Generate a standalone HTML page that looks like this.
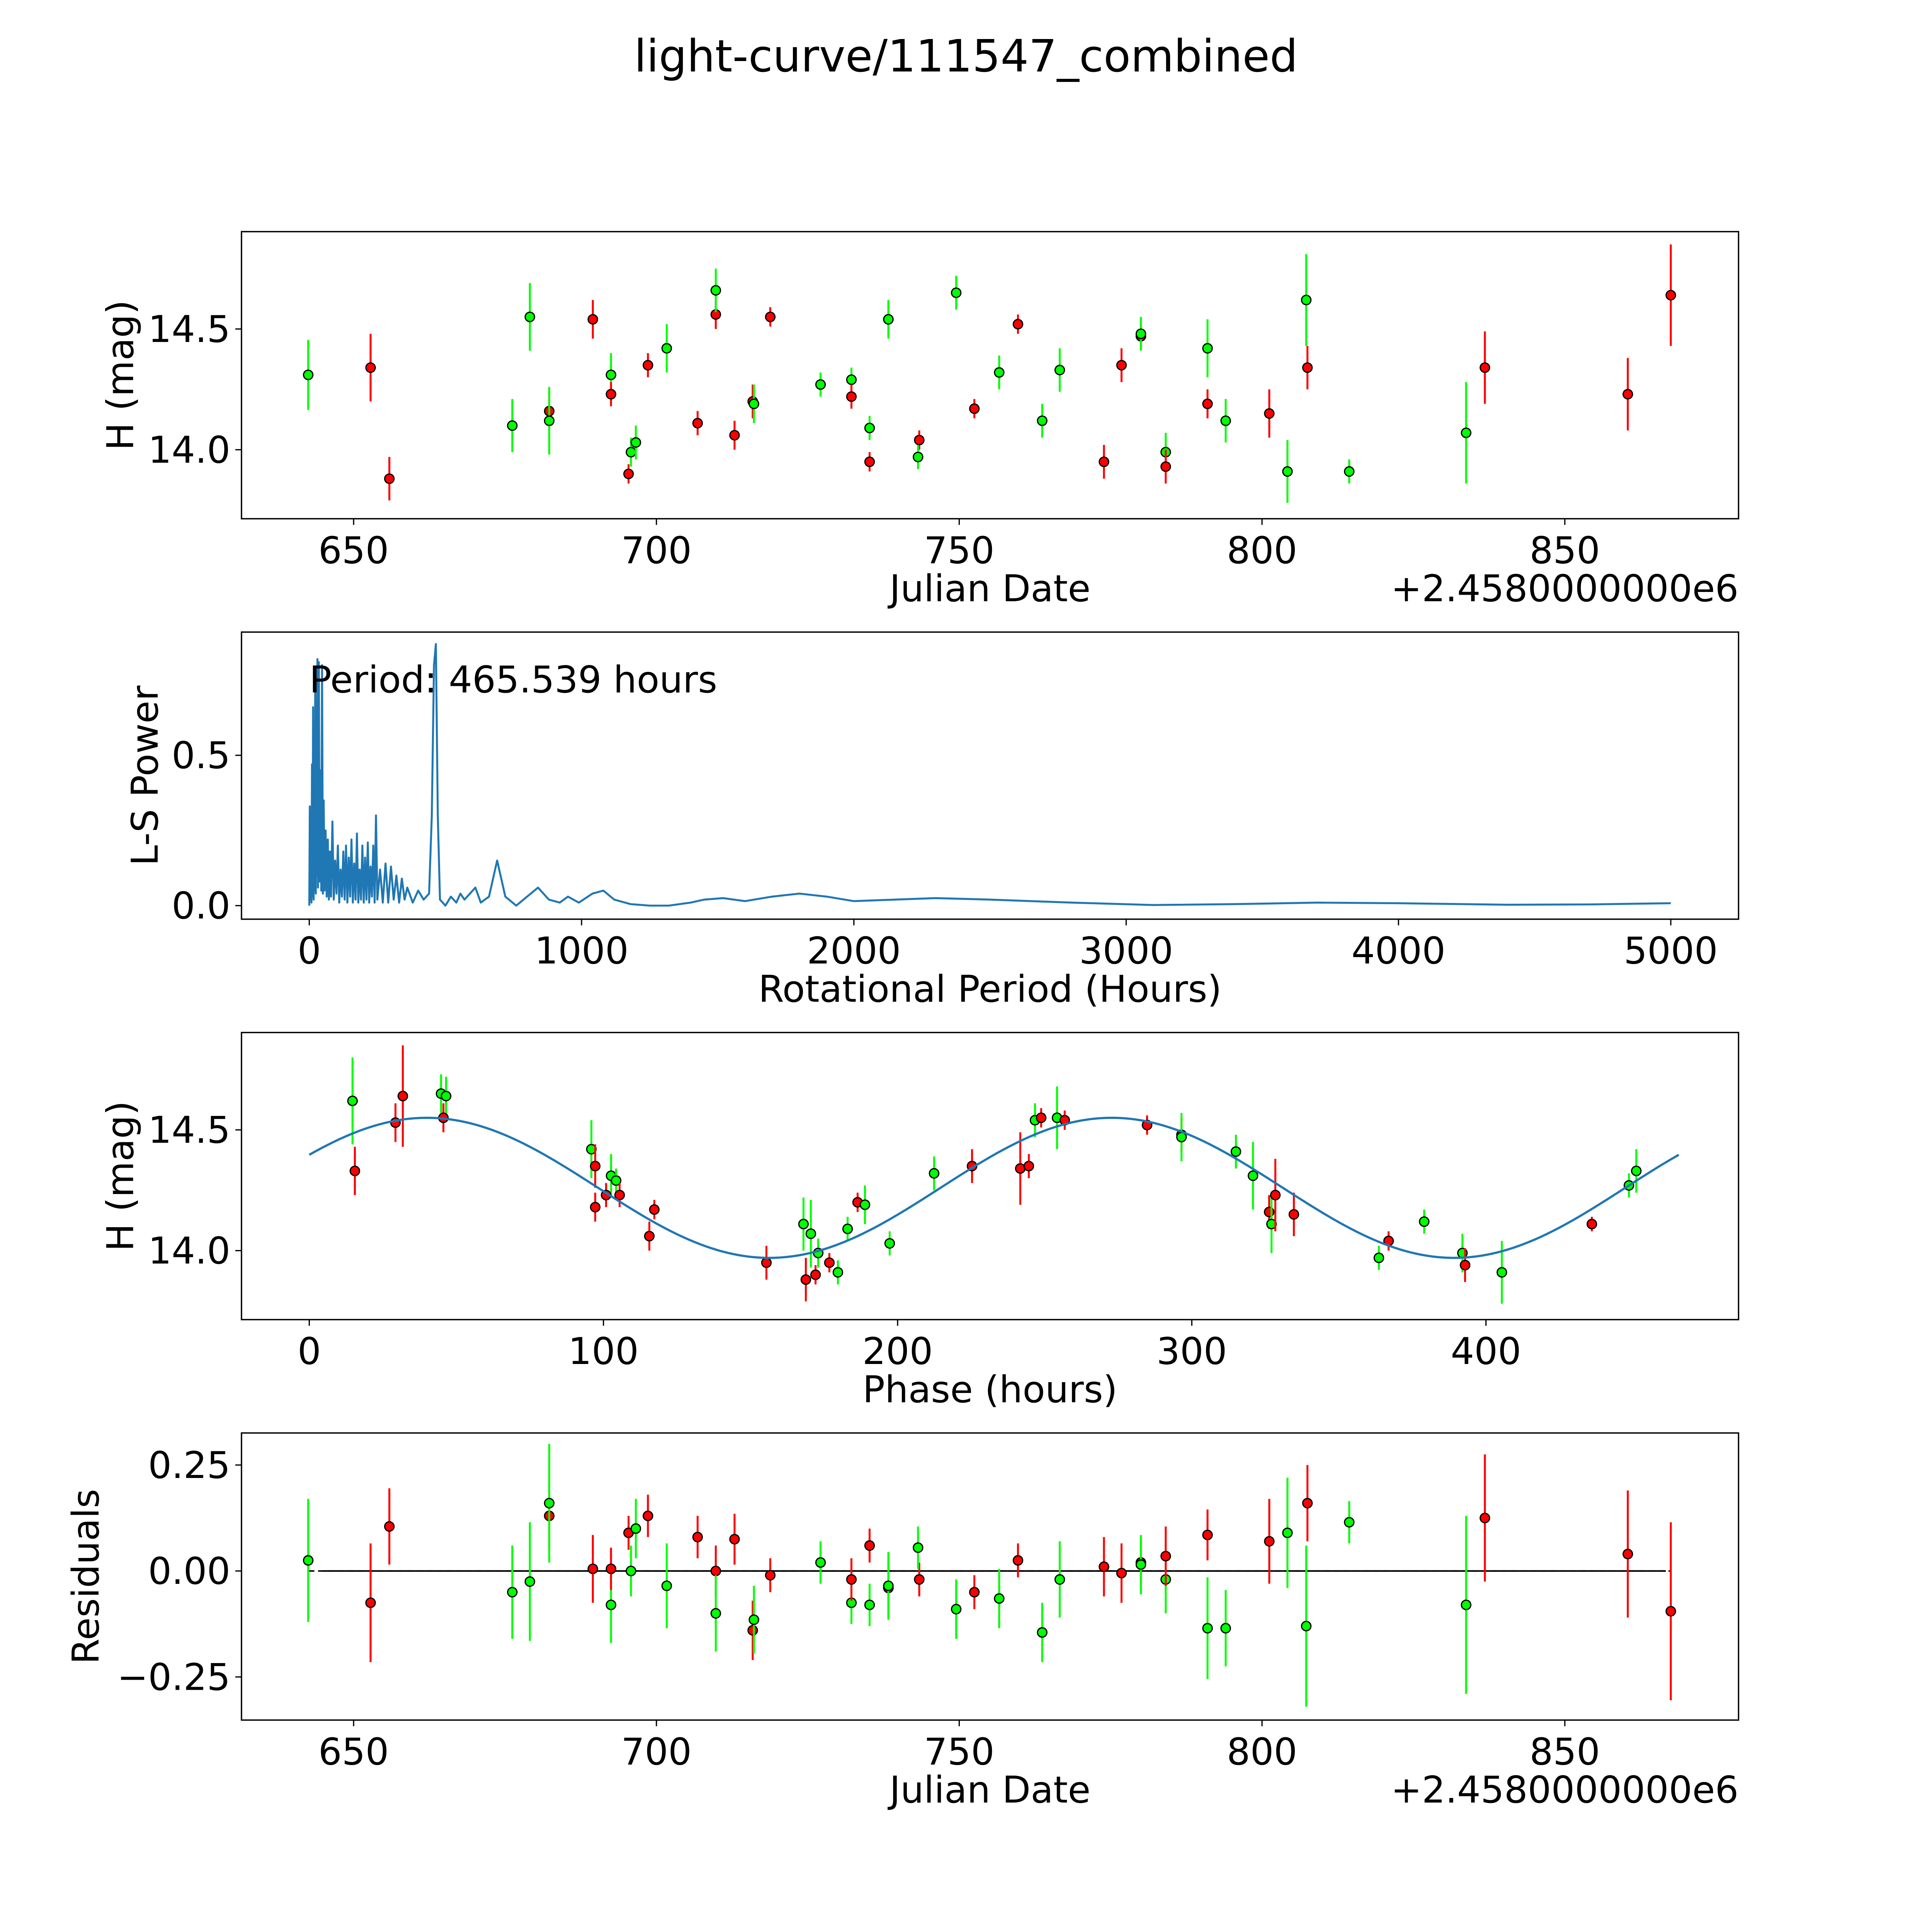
<!DOCTYPE html>
<html><head><meta charset="utf-8">
<style>
html,body{margin:0;padding:0;background:#fff;overflow:hidden;}
svg{display:block;width:100vw;height:100vh;font-family:"DejaVu Sans","Liberation Sans",sans-serif;}
</style></head>
<body>
<svg id="fig" viewBox="0 0 1568 1568" preserveAspectRatio="xMinYMin meet" xmlns="http://www.w3.org/2000/svg">
<rect width="1568" height="1568" fill="#fff"/>
<text x="784" y="58" font-size="36" text-anchor="middle">light-curve/111547_combined</text>
<g id="g1"></g>
<g id="g2"></g>
<g id="g3"></g>
<g id="g4"></g>
</svg>
<script>
// ---- Light curve data ----
const jd = [642.5,652.8,655.9,676.2,679.1,682.3,682.3,689.5,692.5,692.5,695.4,695.8,696.6,698.6,701.7,706.8,709.8,709.8,712.9,715.9,716.1,718.8,727.1,732.2,732.2,735.2,735.2,738.3,738.3,743.4,743.2,749.5,752.5,756.6,759.7,763.7,766.6,773.9,776.8,780.0,780.0,784.1,784.1,791.0,791.0,794.0,801.2,804.2,807.3,807.5,814.4,833.7,836.8,860.4,867.5];
const mag = [14.31,14.34,13.88,14.10,14.55,14.16,14.12,14.54,14.31,14.23,13.90,13.99,14.03,14.35,14.42,14.11,14.56,14.66,14.06,14.20,14.19,14.55,14.27,14.29,14.22,14.09,13.95,14.54,14.54,14.04,13.97,14.65,14.17,14.32,14.52,14.12,14.33,13.95,14.35,14.47,14.48,13.99,13.93,14.42,14.19,14.12,14.15,13.91,14.62,14.34,13.91,14.07,14.34,14.23,14.64];
const magErr = [0.145,0.14,0.09,0.11,0.14,0.08,0.14,0.08,0.09,0.05,0.04,0.06,0.07,0.05,0.10,0.05,0.06,0.09,0.06,0.07,0.08,0.04,0.05,0.05,0.05,0.05,0.04,0.07,0.08,0.04,0.05,0.07,0.04,0.07,0.04,0.07,0.09,0.07,0.07,0.05,0.07,0.08,0.07,0.12,0.06,0.09,0.10,0.13,0.19,0.09,0.05,0.21,0.15,0.15,0.21];
const band = ['g','r','r','g','g','r','g','r','g','r','r','g','g','r','g','r','r','g','r','r','g','r','g','g','r','g','r','r','g','r','g','g','r','g','r','g','g','r','r','r','g','g','r','g','r','g','r','g','g','r','g','g','r','r','r'];
// ---- Residuals (same order as jd) ----
const resid = [0.025,-0.075,0.105,-0.05,-0.025,0.13,0.16,0.005,-0.08,0.005,0.09,0.00,0.10,0.13,-0.035,0.08,0.00,-0.10,0.075,-0.14,-0.115,-0.01,0.02,-0.075,-0.02,-0.08,0.06,-0.04,-0.035,-0.02,0.055,-0.09,-0.05,-0.065,0.025,-0.145,-0.02,0.01,-0.005,0.02,0.015,-0.02,0.035,-0.135,0.085,-0.135,0.07,0.09,-0.13,0.16,0.115,-0.08,0.125,0.04,-0.095];
// ---- Phase-folded data ----
const phaseHrs = [14.7,15.5,29.3,31.8,44.8,46.5,45.6,95.9,97.2,97.2,102.6,104.3,100.9,105.5,117.3,115.6,155.4,168,168.8,170.5,172.1,173,176.8,179.7,183,186.4,188.9,197.3,212.4,225.3,241.7,244.6,246.7,248.8,254.2,256.8,284.8,296.5,296.5,315,320.8,326.3,327.1,328.4,334.7,363.6,366.9,379,392,392.9,405.4,436,448.6,451.1];
const phaseMag = [14.62,14.33,14.53,14.64,14.65,14.64,14.55,14.42,14.35,14.18,14.31,14.29,14.23,14.23,14.17,14.06,13.95,14.11,13.88,14.07,13.90,13.99,13.95,13.91,14.09,14.20,14.19,14.03,14.32,14.35,14.34,14.35,14.54,14.55,14.55,14.54,14.52,14.48,14.47,14.41,14.31,14.16,14.11,14.23,14.15,13.97,14.04,14.12,13.99,13.94,13.91,14.11,14.27,14.33];
const phaseErr = [0.18,0.10,0.08,0.21,0.08,0.08,0.06,0.12,0.09,0.06,0.09,0.05,0.05,0.05,0.04,0.06,0.07,0.11,0.09,0.14,0.04,0.06,0.04,0.05,0.05,0.04,0.08,0.05,0.07,0.07,0.15,0.05,0.07,0.04,0.13,0.04,0.04,0.07,0.10,0.07,0.14,0.07,0.12,0.15,0.09,0.05,0.04,0.05,0.08,0.07,0.13,0.03,0.05,0.09];
const phaseBand = ['g','r','r','r','g','g','r','g','r','r','g','g','r','r','r','r','r','g','r','g','r','g','r','g','g','r','g','g','g','r','r','r','g','r','g','r','r','r','g','g','g','r','g','r','r','g','r','g','g','r','g','r','g','g'];
// ---- Periodogram ----
const lsPeriod = [0,2,4,6,8,10,12,14,16,18, 20,22,24,26,28,30,32,35,38,41, 44,47,50,53,56,60,64,68,72,76, 80,85,90,95,100,105,110,115,120,125, 130,135,140,145,150,155,160,165,170,175, 180,185,190,195,200,205,210,215,220,225, 230,235,240,245,250,260,270,280,290,300, 310,320,330,340,350,360,380,400,420,440, 450,458,465,472,480,500,520,540,555,570, 590,610,630,660,690,720,760,800,840,880, 920,950,990,1040,1080,1120,1180,1250,1320,1400, 1450,1520,1600,1700,1800,1900,2000,2150,2300,2500, 2800,3100,3400,3700,4000,4400,4700,5000];
const lsPower = [0,0.33,0.02,0.30,0.01,0.47,0.03,0.66,0.02,0.40, 0.05,0.78,0.04,0.55,0.10,0.82,0.06,0.81,0.08,0.45, 0.05,0.80,0.04,0.35,0.05,0.25,0.03,0.22,0.02,0.18, 0.03,0.28,0.02,0.15,0.04,0.20,0.01,0.12,0.03,0.18, 0.02,0.20,0.01,0.16,0.03,0.22,0.01,0.14,0.02,0.24, 0.01,0.12,0.02,0.20,0.01,0.16,0.02,0.21,0.01,0.13, 0.03,0.20,0.01,0.30,0.02,0.12,0.01,0.14,0.01,0.13, 0.02,0.10,0.01,0.09,0.02,0.06,0.01,0.05,0.02,0.04, 0.30,0.80,0.87,0.30,0.02,0.00,0.03,0.01,0.04,0.02, 0.04,0.06,0.01,0.03,0.15,0.03,0.00,0.03,0.06,0.02, 0.01,0.03,0.01,0.04,0.05,0.02,0.005,0.00,0.00,0.01, 0.02,0.025,0.015,0.03,0.04,0.03,0.015,0.02,0.025,0.02, 0.01,0.002,0.005,0.01,0.008,0.003,0.004,0.008];
const periodHours = 465.539;
// ---- Model ----
const modelMean = 14.26, modelAmp = 0.29, modelPeakPhase = 40, modelCycle = 232.77;

const NS = "http://www.w3.org/2000/svg";
function el(parent, tag, attrs, text){
  const e = document.createElementNS(NS, tag);
  for (const k in attrs) e.setAttribute(k, attrs[k]);
  if (text !== undefined) e.textContent = text;
  parent.appendChild(e);
  return e;
}
function lin(d0,d1,p0,p1){ return v => p0 + (v-d0)*(p1-p0)/(d1-d0); }
const L=196, R=1411, FS=30;
function frame(g, top, bot, xs, xticks, xlab, ys, yticks, ylab, ylabX, offsetText){
  const f = el(g,'rect',{x:L,y:top,width:R-L,height:bot-top,fill:'none',stroke:'#000','stroke-width':1.1});
  
  
  xticks.forEach(t=>{
    const x = xs(t.v);
    const tk = el(g,'line',{x1:x,x2:x,y1:bot,y2:bot+5,stroke:'#000','stroke-width':1});
    
    
    const tl = el(g,'text',{x:x,y:bot+36,'font-size':FS,'text-anchor':'middle'},t.l);
    
    
  });
  yticks.forEach(t=>{
    const y = ys(t.v);
    const tk = el(g,'line',{x1:L-5,x2:L,y1:y,y2:y,stroke:'#000','stroke-width':1});
    
    
    const tl = el(g,'text',{x:L-9,y:y+10.5,'font-size':FS,'text-anchor':'end'},t.l);
    
    
  });
  const xl = el(g,'text',{x:(L+R)/2,y:bot+67,'font-size':FS,'text-anchor':'middle'},xlab);
  
  
  const my=(top+bot)/2;
  const yl = el(g,'text',{x:ylabX,y:my,'font-size':FS,'text-anchor':'middle',transform:`rotate(-90 ${ylabX} ${my})`},ylab);
  
  
  if (offsetText){
    const ot = el(g,'text',{x:R,y:bot+67,'font-size':FS,'text-anchor':'end'},offsetText);
    
    
  }
}
function errPoint(g, x, y, y1, y2, c){
  const col = c==='r' ? '#ff0000' : '#00ff00';
  const b = el(g,'line',{x1:x,x2:x,y1:y1,y2:y2,stroke:col,'stroke-width':1.6});
  
  
  const p = el(g,'circle',{cx:x,cy:y,r:3.8,fill:col,stroke:'#000','stroke-width':1});
  
  
}
function model(ph){ return modelMean + modelAmp*Math.cos(2*Math.PI*(ph-modelPeakPhase)/modelCycle); }

const jdTicks=[650,700,750,800,850].map(v=>({v,l:String(v)}));
// Panel 1
{
  const g=document.getElementById('g1');
  const xs=lin(650,850,287,1270), ys=lin(14,14.5,365,267);
  frame(g,188,421,xs,jdTicks,'Julian Date',ys,[{v:14,l:'14.0'},{v:14.5,l:'14.5'}],'H (mag)',108,'+2.4580000000e6');
  jd.forEach((j,i)=>errPoint(g,xs(j),ys(mag[i]),ys(mag[i]-magErr[i]),ys(mag[i]+magErr[i]),band[i]));
}
// Panel 2
{
  const g=document.getElementById('g2');
  const xs=lin(0,5000,251,1356), ys=lin(0,0.5,735,613);
  frame(g,513,746,xs,[0,1000,2000,3000,4000,5000].map(v=>({v,l:String(v)})),'Rotational Period (Hours)',ys,[{v:0,l:'0.0'},{v:0.5,l:'0.5'}],'L-S Power',128);
  const pts=lsPeriod.map((p,i)=>xs(p).toFixed(2)+','+ys(lsPower[i]).toFixed(2)).join(' ');
  const pl=el(g,'polyline',{points:pts,fill:'none',stroke:'#1f77b4','stroke-width':1.6,'stroke-linejoin':'round'});
  
  
  const t=el(g,'text',{x:251,y:562,'font-size':FS},'Period: '+periodHours.toFixed(3)+' hours');
  
  
}
// Panel 3
{
  const g=document.getElementById('g3');
  const xs=lin(0,400,251,1206), ys=lin(14,14.5,1015,917);
  frame(g,838,1071,xs,[0,100,200,300,400].map(v=>({v,l:String(v)})),'Phase (hours)',ys,[{v:14,l:'14.0'},{v:14.5,l:'14.5'}],'H (mag)',108);
  phaseHrs.forEach((p,i)=>errPoint(g,xs(p),ys(phaseMag[i]),ys(phaseMag[i]-phaseErr[i]),ys(phaseMag[i]+phaseErr[i]),phaseBand[i]));
  let pts=[];
  for(let k=0;k<=300;k++){const p=periodHours*k/300; pts.push(xs(p).toFixed(2)+','+ys(model(p)).toFixed(2));}
  const pl=el(g,'polyline',{points:pts.join(' '),fill:'none',stroke:'#1f77b4','stroke-width':1.8});
  
  
}
// Panel 4
{
  const g=document.getElementById('g4');
  const xs=lin(650,850,287,1270), ys=lin(0,0.25,1275,1189);
  frame(g,1163,1396,xs,jdTicks,'Julian Date',ys,[{v:0.25,l:'0.25'},{v:0,l:'0.00'},{v:-0.25,l:'\u22120.25'}],'Residuals',80,'+2.4580000000e6');
  const x0=xs(Math.min(...jd)), x1=xs(Math.max(...jd));
  const d=el(g,'line',{x1:x0,x2:x1,y1:ys(0),y2:ys(0),stroke:'#000','stroke-width':1.2,'stroke-dasharray':'5,3'});
  
  
  const s=el(g,'line',{x1:x0+12,x2:x1-4,y1:ys(0),y2:ys(0),stroke:'#000','stroke-width':1.3});
  
  
  jd.forEach((j,i)=>errPoint(g,xs(j),ys(resid[i]),ys(resid[i]-magErr[i]),ys(resid[i]+magErr[i]),band[i]));
}
</script>
</body></html>
